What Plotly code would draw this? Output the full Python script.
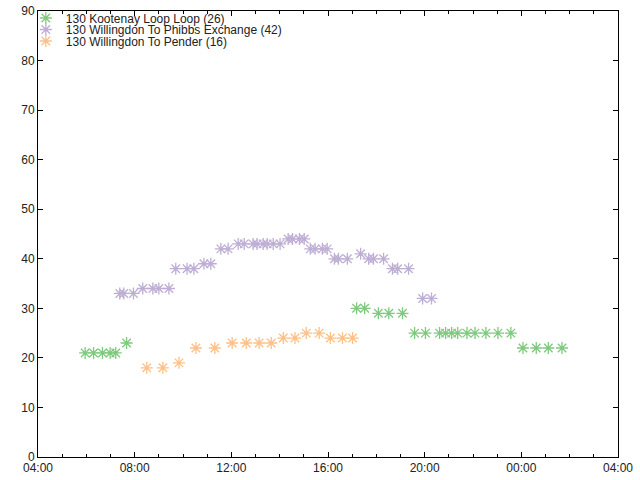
import plotly.graph_objects as go

DAY = "2024-01-01 "
NEXT = "2024-01-02 "

# Series 1: 130 Kootenay Loop Loop (26)
kootenay_times = ["05:57", "06:18", "06:40", "06:59", "07:13", "07:40",
                  "17:11", "17:31", "18:05", "18:31", "19:05",
                  "19:35", "20:02", "20:37", "20:52", "21:07", "21:22", "21:45",
                  "22:05", "22:32", "23:02", "23:34",
                  "+00:04", "+00:37", "+01:07", "+01:41"]
kootenay_vals = [21, 21, 21, 21, 21, 23,
                 30, 30, 29, 29, 29,
                 25, 25, 25, 25, 25, 25, 25, 25, 25, 25, 25,
                 22, 22, 22, 22]

# Series 2: 130 Willingdon To Phibbs Exchange (42)
phibbs_times = ["07:23", "07:33", "07:57", "08:20", "08:45", "09:00", "09:25",
                "09:42", "10:10", "10:27", "10:52", "11:09", "11:34", "11:52",
                "12:17", "12:32", "12:54", "13:04", "13:19", "13:29", "13:44",
                "14:01", "14:21", "14:32", "14:49", "15:01", "15:16", "15:28",
                "15:46", "15:58", "16:16", "16:26", "16:48", "17:21", "17:41",
                "17:53", "18:18", "18:40", "18:53", "19:20", "19:55", "20:17"]
phibbs_vals = [33, 33, 33, 34, 34, 34, 34,
               38, 38, 38, 39, 39, 42, 42,
               43, 43, 43, 43, 43, 43, 43,
               43, 44, 44, 44, 44, 42, 42,
               42, 42, 40, 40, 40, 41, 40,
               40, 40, 38, 38, 38, 32, 32]

# Series 3: 130 Willingdon To Pender (16)
pender_times = ["08:30", "09:10", "09:50", "10:32", "11:19", "12:02", "12:37",
                "13:09", "13:39", "14:09", "14:38", "15:06", "15:38", "16:06",
                "16:36", "17:01"]
pender_vals = [18, 18, 19, 22, 22, 23, 23, 23, 23, 24, 24, 25, 25, 24, 24, 24]

series_names = ["130 Kootenay Loop Loop (26)",
                "130 Willingdon To Phibbs Exchange (42)",
                "130 Willingdon To Pender (16)"]
series_colors = ["#7fc97f", "#beaed4", "#fdc086"]


def to_dt(ts):
    return [NEXT + t[1:] if t.startswith("+") else DAY + t for t in ts]


FONT = "Liberation Sans, Arial, sans-serif"
legend_ids = ["legend", "legend2", "legend3"]
legend_y = [0.9843, 0.9585, 0.9327]

fig = go.Figure()
for name, color, ts, vs, lid in zip(series_names, series_colors,
                                    [kootenay_times, phibbs_times, pender_times],
                                    [kootenay_vals, phibbs_vals, pender_vals],
                                    legend_ids):
    fig.add_trace(go.Scatter(
        x=to_dt(ts), y=vs, mode="markers", name=name, legend=lid,
        marker=dict(symbol="asterisk-open", size=10, color=color,
                    line=dict(color=color, width=1.3)),
    ))

axis_common = dict(
    showline=True, linecolor="black", linewidth=1, mirror="ticks",
    ticks="inside", ticklen=5, tickcolor="black", tickwidth=1,
    showgrid=False, zeroline=False, automargin=False,
    ticklabeloverflow="allow",
    tickfont=dict(family=FONT, size=12, color="#222"),
)

fig.update_xaxes(
    type="date", range=[DAY + "04:00", NEXT + "04:00"],
    dtick=4 * 3600 * 1000, tick0=DAY + "04:00", tickformat="%H:%M",
    minor=dict(ticks="inside", dtick=3600 * 1000, ticklen=3, tickcolor="black"),
    **axis_common,
)
fig.update_yaxes(range=[0, 90], dtick=10, **axis_common)

legend_common = dict(x=-0.021, xanchor="left", yanchor="middle",
                     bgcolor="rgba(0,0,0,0)", font=dict(family=FONT, size=12, color="#222"),
                     itemwidth=30)

fig.update_layout(
    width=640, height=480,
    margin=dict(l=38, r=22, t=11, b=23, autoexpand=False),
    plot_bgcolor="white", paper_bgcolor="white",
    font=dict(family=FONT, size=12, color="#222"),
    legend=dict(y=legend_y[0], **legend_common),
    legend2=dict(y=legend_y[1], **legend_common),
    legend3=dict(y=legend_y[2], **legend_common),
    showlegend=True,
)

# remove the page's default 8px body margin so the figure sits at the window origin
fig.write_html("out.html", config={"displayModeBar": False},
               post_script="document.body.style.margin='0';")
